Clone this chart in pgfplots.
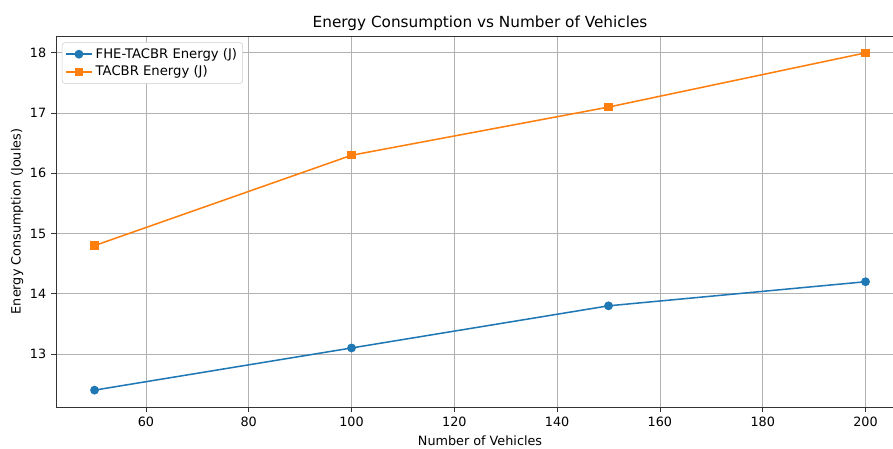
\documentclass[border=0pt]{standalone}
\usepackage{fontspec}
\setmainfont{DejaVu Sans}
\usepackage{pgfplots}
\pgfplotsset{compat=1.18}
\definecolor{mblue}{HTML}{1F77B4}
\definecolor{morange}{HTML}{FF7F0E}
\begin{document}
\begin{tikzpicture}
\useasboundingbox (-40.32pt,-30.24pt) rectangle (602.64pt,293.04pt);
\begin{axis}[
  at={(0,0)}, anchor=south west,
  scale only axis, width=610.6pt, height=267.1pt,
  xmin=42.5, xmax=207.5, ymin=12.12, ymax=18.28,
  xtick={60,80,...,200}, ytick={13,14,...,18},
  grid=major, major grid style={color=black!30, line width=0.6pt},
  tick align=outside, tick pos=left,
  major tick length=3.5pt,
  every tick/.style={black!80, line width=0.6pt},
  axis line style={line width=0.6pt, black!80},
  /pgf/number format/assume math mode=true,
  ticklabel style={font=\fontsize{9.2}{11}\selectfont},
  xlabel={Number of Vehicles}, ylabel={Energy Consumption (Joules)},
  label style={font=\fontsize{9.2}{11}\selectfont},
  ylabel style={yshift=-2pt},
  title={Energy Consumption vs Number of Vehicles},
  title style={font=\fontsize{11}{13}\selectfont, yshift=-5.5pt},
  legend style={font=\fontsize{9.5}{11}\selectfont, draw=black!20, rounded corners=2pt, inner sep=2pt, row sep=0pt, at={(0.007,0.983)}, anchor=north west},
  legend cell align=left,
  legend image code/.code={\draw[#1, mark repeat=2, mark phase=2] plot coordinates {(0pt,0pt) (9.5pt,0pt) (19pt,0pt)};},
]
\addplot[color=mblue, line width=1.1pt, mark=*, mark size=2.6pt, mark options={fill=mblue, draw=mblue}] coordinates {(50,12.4) (100,13.1) (150,13.8) (200,14.2)};
\addlegendentry{FHE-TACBR Energy (J)}
\addplot[color=morange, line width=1.1pt, mark=square*, mark size=2.4pt, mark options={fill=morange, draw=morange}] coordinates {(50,14.8) (100,16.3) (150,17.1) (200,18.0)};
\addlegendentry{TACBR Energy (J)}
\end{axis}
\end{tikzpicture}
\end{document}
